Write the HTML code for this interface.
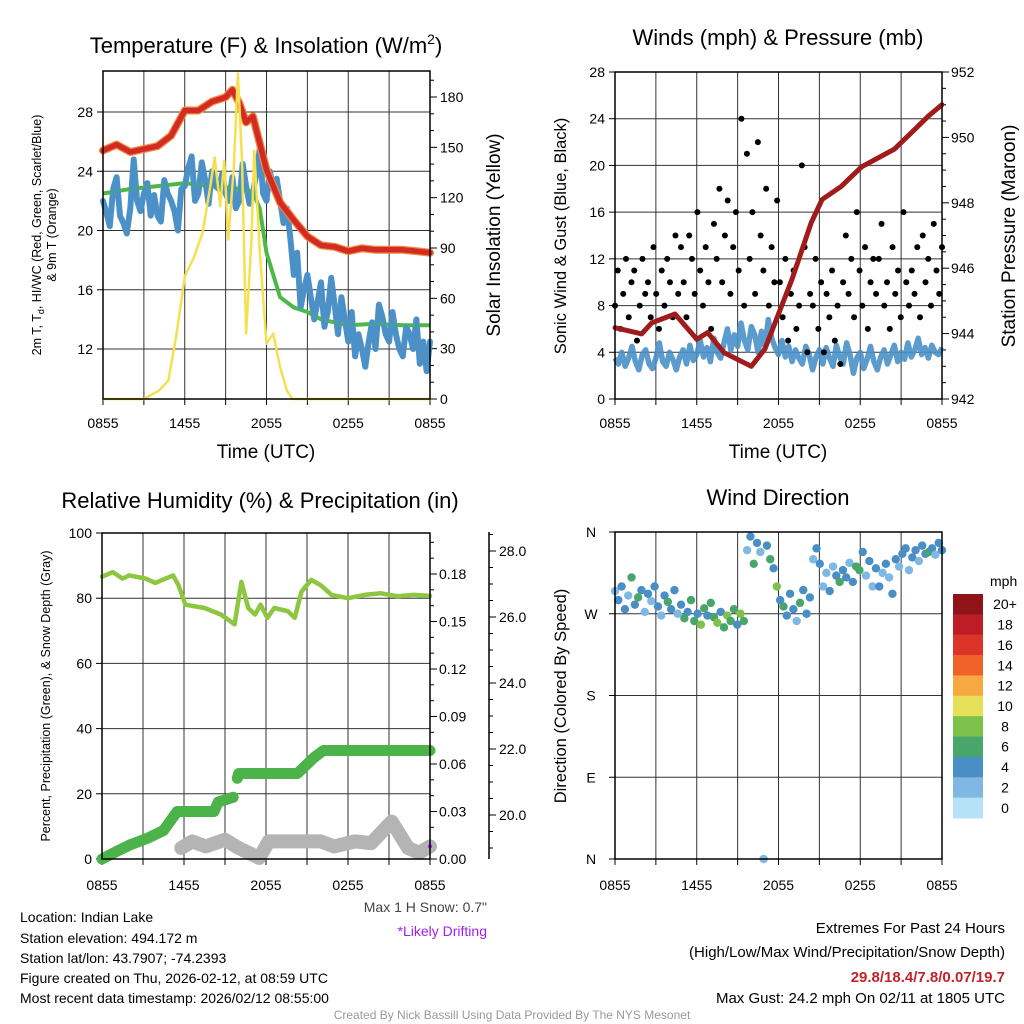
<!DOCTYPE html>
<html><head><meta charset="utf-8">
<style>
html,body{margin:0;padding:0;background:#fff;}
svg{display:block;font-family:"Liberation Sans",sans-serif;}
</style></head>
<body>
<svg id="fig" width="1024" height="1024" viewBox="0 0 1024 1024" xmlns="http://www.w3.org/2000/svg">
<rect x="0" y="0" width="1024" height="1024" fill="#fff"/>
<g id="layer"></g>
<g font-size="14" fill="#000">
<text x="266" y="53" font-size="22" text-anchor="middle">Temperature (F) &amp; Insolation (W/m<tspan font-size="14" dy="-9">2</tspan><tspan dy="9">)</tspan></text>
<text x="778" y="45" font-size="22" text-anchor="middle">Winds (mph) &amp; Pressure (mb)</text>
<text x="260" y="508" font-size="22" text-anchor="middle">Relative Humidity (%) &amp; Precipitation (in)</text>
<text x="778" y="505" font-size="22" text-anchor="middle">Wind Direction</text>
<text x="266" y="458" font-size="19" text-anchor="middle">Time (UTC)</text>
<text x="778" y="458" font-size="19" text-anchor="middle">Time (UTC)</text>
<text transform="translate(41,235) rotate(-90)" font-size="12.5" text-anchor="middle">2m T, T<tspan font-size="9" dy="3">d</tspan><tspan dy="-3">, HI/WC (Red, Green, Scarlet/Blue)</tspan></text>
<text transform="translate(56,235) rotate(-90)" font-size="12.5" text-anchor="middle">&amp; 9m T (Orange)</text>
<text transform="translate(500,235) rotate(-90)" font-size="19" text-anchor="middle">Solar Insolation (Yellow)</text>
<text transform="translate(566,236) rotate(-90)" font-size="16.5" text-anchor="middle">Sonic Wind &amp; Gust (Blue, Black)</text>
<text transform="translate(1015,236) rotate(-90)" font-size="19" text-anchor="middle">Station Pressure (Maroon)</text>
<text transform="translate(50,696) rotate(-90)" font-size="12.5" text-anchor="middle">Percent, Precipitation (Green), &amp; Snow Depth (Gray)</text>
<text transform="translate(566,696) rotate(-90)" font-size="16.5" text-anchor="middle">Direction (Colored By Speed)</text>
<text x="487" y="912" font-size="14" text-anchor="end" fill="#444">Max 1 H Snow: 0.7"</text>
<text x="487" y="936" font-size="14" text-anchor="end" fill="#a020f0">*Likely Drifting</text>
<text x="20" y="922">Location: Indian Lake</text>
<text x="20" y="943">Station elevation: 494.172 m</text>
<text x="20" y="963">Station lat/lon: 43.7907; -74.2393</text>
<text x="20" y="983">Figure created on Thu, 2026-02-12, at 08:59 UTC</text>
<text x="20" y="1003">Most recent data timestamp: 2026/02/12 08:55:00</text>
<text x="1005" y="933" font-size="15" text-anchor="end">Extremes For Past 24 Hours</text>
<text x="1005" y="957" font-size="15" text-anchor="end">(High/Low/Max Wind/Precipitation/Snow Depth)</text>
<text x="1005" y="982" font-size="15" font-weight="bold" text-anchor="end" fill="#c0232b">29.8/18.4/7.8/0.07/19.7</text>
<text x="1005" y="1003" font-size="15" text-anchor="end">Max Gust: 24.2 mph On 02/11 at 1805 UTC</text>
<text x="512" y="1019" font-size="12" text-anchor="middle" fill="#999">Created By Nick Bassill Using Data Provided By The NYS Mesonet</text>
</g>
</svg>
<script>
// ===== data =====
const xTickLabels = ["0855","1455","2055","0255","0855"];
// Panel 1
const tempTicks = [12,16,20,24,28];
const insolTicks = [0,30,60,90,120,150,180];
const tempHours = [0,1,2,3,4,5,6,7,8,9,9.5,10,10.5,11,12,13,14,15,16,17,18,19,20,21,22,23,24];
const tempVals = [25.4,25.8,25.3,25.5,25.7,26.4,28.1,28.1,28.7,29.0,29.5,28.6,27.3,27.7,24.1,21.9,20.7,19.6,19.0,18.9,18.6,18.8,18.7,18.7,18.7,18.6,18.5];
const dewHours = [0,2,4,6,8,10,11,11.5,12,13,14,15,16,17,18,20,22,24];
const dewVals = [22.5,22.8,23.0,23.2,23.0,22.8,22.6,21.5,18.5,15.5,14.8,14.5,14.0,13.8,13.6,13.7,13.6,13.6];
const blueT = [22.0,21.2,20.3,22.8,23.6,21.0,20.5,19.8,21.5,24.8,22.0,21.3,22.5,23.2,21.0,22.4,21.0,20.6,23.4,22.5,22.0,21.3,20.0,22.8,23.0,24.2,25.0,22.0,22.5,24.6,23.4,21.8,24.0,23.0,22.8,23.8,22.5,22.0,23.6,21.5,22.0,24.5,23.0,21.8,22.5,23.8,25.5,22.5,22.0,24.0,22.8,23.5,22.0,20.5,21.5,19.5,17.0,18.5,14.8,16.0,17.0,15.5,14.0,15.2,16.5,13.5,14.5,16.8,15.0,13.0,15.5,14.0,12.5,14.5,11.5,13.0,12.0,10.8,12.5,13.8,12.0,15.0,14.2,13.0,12.5,14.5,13.0,12.0,11.5,13.5,13.0,12.0,14.0,11.0,12.5,10.5,12.5];
const insolHours = [0,3.0,4.1,4.8,5.4,6.0,6.7,7.3,7.8,8.2,8.6,8.9,9.2,9.6,9.9,10.2,10.5,10.9,11.1,11.5,12.0,12.5,13.0,13.5,13.9,24];
const insolVals = [0,0,5,11,39,73,85,99,123,144,115,142,95,138,194,142,39,95,148,89,33,39,19,5,0,0];
// Panel 2
const windTicks = [0,4,8,12,16,20,24,28];
const presTicks = [942,944,946,948,950,952];
const presHours = [0,1.95,2.7,4.4,6.0,6.8,8.0,10.0,11.0,13.0,14.4,15.2,16.6,18.1,20.5,21.5,23.0,24];
const presVals = [944.18,943.99,944.33,944.6,943.83,944.03,943.42,943.0,943.53,945.67,947.39,948.1,948.5,949.1,949.64,950.04,950.65,951.0];
const windVals = [3.5,3.0,4.0,2.8,3.5,4.5,3.2,2.5,3.8,4.2,3.0,2.6,3.5,4.8,3.2,2.8,4.0,3.4,2.5,3.6,4.2,3.0,4.6,3.3,3.8,5.0,3.6,4.4,3.2,5.2,4.0,3.5,4.8,6.0,4.2,5.5,4.5,6.5,5.0,4.2,6.2,5.5,4.0,5.8,4.5,6.8,5.2,4.4,3.8,5.0,3.6,4.5,3.2,4.2,3.5,3.0,4.5,3.8,2.5,3.6,4.2,3.0,4.4,3.5,2.8,4.6,3.6,3.0,4.8,3.8,2.2,3.5,4.0,2.6,3.4,4.5,3.2,2.5,3.6,4.2,3.0,3.8,4.6,3.2,4.0,3.4,4.8,3.6,4.2,5.2,3.8,4.4,3.5,4.6,4.0,3.8,4.4];
const gustVals = [8,11,6,9,12,7,10,11,5,8,12,9, 10,7,13,9,6,11,8,12,10,7,14,9, 13,10,7,14,12,9,16,11,8,13,10,6, 15,12,18,10,14,17,9,13,16,11,24,8, 21,12,16,9,22,14,11,18,8,13,10,17, 10,7,12,5,9,11,6,8,20,13,4,9, 8,12,6,10,4,9,7,11,5,8,3,10, 14,9,12,7,16,11,8,13,6,10,12,9, 12,15,8,10,6,13,9,11,7,16,10,8, 11,9,13,7,14,10,12,8,15,11,9,13];
// Panel 3
const rhTicks = [0,20,40,60,80,100];
const precipTicks = ["0.00","0.03","0.06","0.09","0.12","0.15","0.18"];
const snowTicks = ["20.0","22.0","24.0","26.0","28.0"];
const rhHours = [0,0.8,1.5,2,3.2,3.9,5.2,5.6,6.1,7.5,8.7,9.7,10.2,10.7,11.2,11.6,12.1,12.6,13.6,14.1,14.6,15.3,16,16.8,18,19.2,20.4,21.6,22.8,24];
const rhVals = [86.6,88,86,87,86,84.7,87,84,78,77,75,72,85,77,75,78,74,77,76,74,82,85.6,84,81,80,81,81.5,80.6,81,80.7];
const precipHours = [0,1,2,3.3,4.5,5.5,8.2,8.5,9.6,9.9,10.0,14.3,15.5,16.2,24];
const precipVals = [0,0.0045,0.0087,0.013,0.018,0.03,0.03,0.036,0.039,0.051,0.054,0.054,0.064,0.0685,0.0685];
const snowHours = [5.8,6.6,7.6,9.0,10.0,11.5,12.2,13.5,16,17,18.5,19.7,21.2,22.4,23.2,24];
const snowVals = [19.0,19.2,19.05,19.25,19.0,18.7,19.2,19.2,19.2,19.05,19.2,19.15,19.8,19.0,18.85,19.05];
// Panel 4
const dirLabels = ["N","E","S","W","N"];
const dirVals = [295,285,300,275,290,310,280,288,296,272, 292,284,300,278,268,290,283,275,296,270, 280,265,272,285,262,270,258,276,268,282, 266,260,272,255,268,262,275,258,270,262, 340,355,325,348,338,0,345,330,320,300, 285,278,268,292,275,262,282,296,270,288, 330,342,325,300,315,295,322,312,305,318, 310,326,305,322,318,338,312,328,300,320, 300,315,325,310,292,330,322,336,342,318, 332,340,328,345,336,338,342,335,348,340];
const spdVals = [2,4,3,4,2,5,4,6,3,2, 4,2,3,4,2,4,6,4,3,2, 4,6,4,5,6,4,7,6,4,6, 6,7,4,6,8,6,6,4,7,6, 2,4,6,4,2,2,3,6,4,8, 4,6,3,4,4,2,6,4,3,4, 2,4,3,2,2,4,2,4,6,4, 4,2,4,5,6,4,2,4,2,4, 4,2,4,2,3,4,2,4,4,2, 4,4,2,4,4,6,4,2,4,4];
const cbarLabels = ["20+","18","16","14","12","10","8","6","4","2","0"];
const cbarColors = ["#8e1419","#bd1d24","#dc3428","#f0622a","#f7a843","#e6e05a","#7dc24a","#48a56b","#4a8ec6","#7fb9e3","#b6e2f7"];

// ===== drawing =====
const NS="http://www.w3.org/2000/svg";
const layer=document.getElementById('layer');
function el(tag,attrs,parent){const e=document.createElementNS(NS,tag);for(const k in attrs)e.setAttribute(k,attrs[k]);(parent||layer).appendChild(e);return e;}
function lin(d0,d1,r0,r1){return v=>r0+(v-d0)*(r1-r0)/(d1-d0);}
function pathFrom(xs,ys,fx,fy){let d="";for(let i=0;i<xs.length;i++){d+=(i?"L":"M")+fx(xs[i]).toFixed(1)+","+fy(ys[i]).toFixed(1);}return d;}
function evenHours(arr){return arr.map((v,i)=>i*24/(arr.length-1));}
function txt(s,x,y,anchor,size,g){const t=el('text',{x:x,y:y,'text-anchor':anchor,'font-size':size},g);t.textContent=s;return t;}

function frame(name,x0,x1,y0,y1,hgrid,labOff){
  const g=el('g',{});
  
  
  const fx=lin(0,24,x0,x1);
  for(let h=3;h<24;h+=3){el('line',{x1:fx(h),x2:fx(h),y1:y0,y2:y1,stroke:'#333','stroke-width':1},g);}
  hgrid.forEach(y=>el('line',{x1:x0,x2:x1,y1:y,y2:y,stroke:'#333','stroke-width':1},g));
  for(let h=0;h<=24;h+=3){el('line',{x1:fx(h),x2:fx(h),y1:y1,y2:y1+6,stroke:'#000','stroke-width':1},g);}
  for(let i=0;i<5;i++){const t=txt(xTickLabels[i],fx(i*6),y1+labOff,'middle',14,g);}
  return {g,fx};
}
function border(x0,x1,y0,y1,name){const r=el('rect',{x:x0,y:y0,width:x1-x0,height:y1-y0,fill:'none',stroke:'#000','stroke-width':1.5});}

// ---- Panel 1 ----
(function(){
  const x0=103,x1=430,y0=71,y1=399;
  const fy=lin(12,28,349,112), fyR=lin(0,180,399,97);
  const {g,fx}=frame('temp',x0,x1,y0,y1,tempTicks.map(fy),29);
  tempTicks.forEach(v=>{el('line',{x1:x0-6,x2:x0,y1:fy(v),y2:fy(v),stroke:'#000'},g);const t=txt(String(v),x0-10,fy(v)+5,'end',14,g);});
  for(let v=0;v<=190;v+=10){el('line',{x1:x1,x2:x1+(v%30===0?7:4),y1:fyR(v),y2:fyR(v),stroke:'#000'},g);}
  insolTicks.forEach(v=>{const t=txt(String(v),x1+10,fyR(v)+5,'start',14,g);});
  let p;
  p=el('path',{d:pathFrom(evenHours(blueT),blueT,fx,fy),fill:'none',stroke:'#4a90c8','stroke-width':6,'stroke-linejoin':'round','stroke-linecap':'round',opacity:0.95});
  
  p=el('path',{d:pathFrom(dewHours,dewVals,fx,fy),fill:'none',stroke:'#4db848','stroke-width':4,'stroke-linejoin':'round'});
  
  p=el('path',{d:pathFrom(evenHours(blueT),blueT,fx,fy),fill:'none',stroke:'#4a90c8','stroke-width':5,'stroke-linejoin':'round',opacity:0.85});
  
  p=el('path',{d:pathFrom(tempHours,tempVals,fx,fy),fill:'none',stroke:'#f08a3a','stroke-width':8,'stroke-linejoin':'round','stroke-linecap':'round'});
  
  p=el('path',{d:pathFrom(tempHours,tempVals,fx,fy),fill:'none',stroke:'#d42a25','stroke-width':5.5,'stroke-linejoin':'round','stroke-linecap':'round'});
  
  p=el('path',{d:pathFrom(insolHours,insolVals,fx,fyR),fill:'none',stroke:'#f5e050','stroke-width':2.5,'stroke-linejoin':'round'});
  
  border(x0,x1,y0,y1,'temp');
})();

// ---- Panel 2 ----
(function(){
  const x0=615,x1=942,y0=72,y1=399;
  const fy=lin(0,28,399,72), fyR=lin(942,952,399,72);
  const {g,fx}=frame('wind',x0,x1,y0,y1,windTicks.map(fy),29);
  windTicks.forEach(v=>{el('line',{x1:x0-6,x2:x0,y1:fy(v),y2:fy(v),stroke:'#000'},g);const t=txt(String(v),x0-10,fy(v)+5,'end',14,g);});
  for(let v=942;v<=952.01;v+=0.5){el('line',{x1:x1,x2:x1+(Math.abs(v%2)<0.01?7:4),y1:fyR(v),y2:fyR(v),stroke:'#000'},g);}
  presTicks.forEach(v=>{const t=txt(String(v),x1+9,fyR(v)+5,'start',14,g);});
  let p=el('path',{d:pathFrom(evenHours(windVals),windVals,fx,fy),fill:'none',stroke:'#4a90c8','stroke-width':5.5,'stroke-linejoin':'round',opacity:0.9});
  
  const gh=evenHours(gustVals);
  gustVals.forEach((v,i)=>{const c=el('circle',{cx:fx(gh[i]),cy:fy(v),r:3,fill:'#000'});
    
    });
  p=el('path',{d:pathFrom(presHours,presVals,fx,fyR),fill:'none',stroke:'#a01c1c','stroke-width':5,'stroke-linejoin':'round','stroke-linecap':'round'});
  
  border(x0,x1,y0,y1,'wind');
})();

// ---- Panel 3 ----
(function(){
  const x0=102,x1=430,y0=533,y1=859;
  const fy=lin(0,100,859,533), fyP=lin(0,0.03,859,811.5), fyS=lin(20,28,815,551);
  const {g,fx}=frame('rh',x0,x1,y0,y1,[80,60,40,20].map(fy),31);
  rhTicks.forEach(v=>{el('line',{x1:x0-6,x2:x0,y1:fy(v),y2:fy(v),stroke:'#000'},g);const t=txt(String(v),x0-10,fy(v)+5,'end',14,g);});
  for(let i=0;i<=20;i++){const v=i*0.01;el('line',{x1:x1,x2:x1+(i%3===0?7:4),y1:fyP(v),y2:fyP(v),stroke:'#000'},g);}
  precipTicks.forEach(s=>{const t=txt(s,x1+9,fyP(parseFloat(s))+5,'start',14,g);});
  const sx=489;
  el('line',{x1:sx,x2:sx,y1:532,y2:859,stroke:'#000','stroke-width':1.5},g);
  for(let v=19;v<=28.6;v+=0.5){el('line',{x1:sx,x2:sx+(Math.abs(v%2)<0.01?7:4),y1:fyS(v),y2:fyS(v),stroke:'#000'},g);}
  snowTicks.forEach(s=>{const t=txt(s,sx+10,fyS(parseFloat(s))+5,'start',14,g);});
  let p=el('path',{d:pathFrom(snowHours,snowVals,fx,fyS),fill:'none',stroke:'#b4b4b4','stroke-width':14,'stroke-linejoin':'round','stroke-linecap':'round'});
  
  const cut=precipHours.indexOf(9.6)+1;
  p=el('path',{d:pathFrom(precipHours.slice(0,cut),precipVals.slice(0,cut),fx,fyP)+pathFrom(precipHours.slice(cut),precipVals.slice(cut),fx,fyP),fill:'none',stroke:'#4bb34a','stroke-width':11,'stroke-linejoin':'round','stroke-linecap':'round'});
  
  p=el('path',{d:pathFrom(rhHours,rhVals,fx,fy),fill:'none',stroke:'#8dc63f','stroke-width':4.5,'stroke-linejoin':'round','stroke-linecap':'round'});
  
  const c=el('circle',{cx:fx(24),cy:fyS(snowVals[snowVals.length-1]),r:2,fill:'#a020f0'});
  
  border(x0,x1,y0,y1,'rh');
})();

// ---- Panel 4 ----
(function(){
  const x0=615,x1=942,y0=532,y1=859;
  const fy=lin(0,360,859,532);
  const {g,fx}=frame('dir',x0,x1,y0,y1,[90,180,270].map(fy),31);
  dirLabels.forEach((s,i)=>{const v=i*90;el('line',{x1:x0-6,x2:x0,y1:fy(v),y2:fy(v),stroke:'#000'},g);const t=txt(s,591,fy(v)+5,'middle',14,g);});
  const dh=evenHours(dirVals);
  function colorFor(s){const idx=Math.min(10,Math.floor((s+1)/2));return cbarColors[10-idx];}
  dirVals.forEach((v,i)=>{const c=el('circle',{cx:fx(dh[i]),cy:fy(v),r:4.2,fill:colorFor(spdVals[i])});
    
    });
  border(x0,x1,y0,y1,'dir');
  const cb=el('g',{});
  
  const t0=txt('mph',990,586,'start',14,cb);
  const bh=224/11;
  cbarColors.forEach((col,i)=>{const r=el('rect',{x:953,y:594+i*bh,width:30,height:bh+0.5,fill:col},cb);
    
    const t=txt(cbarLabels[i],1005,594+i*bh+bh/2+5,'middle',14,cb);});
})();
</script>
</body></html>
